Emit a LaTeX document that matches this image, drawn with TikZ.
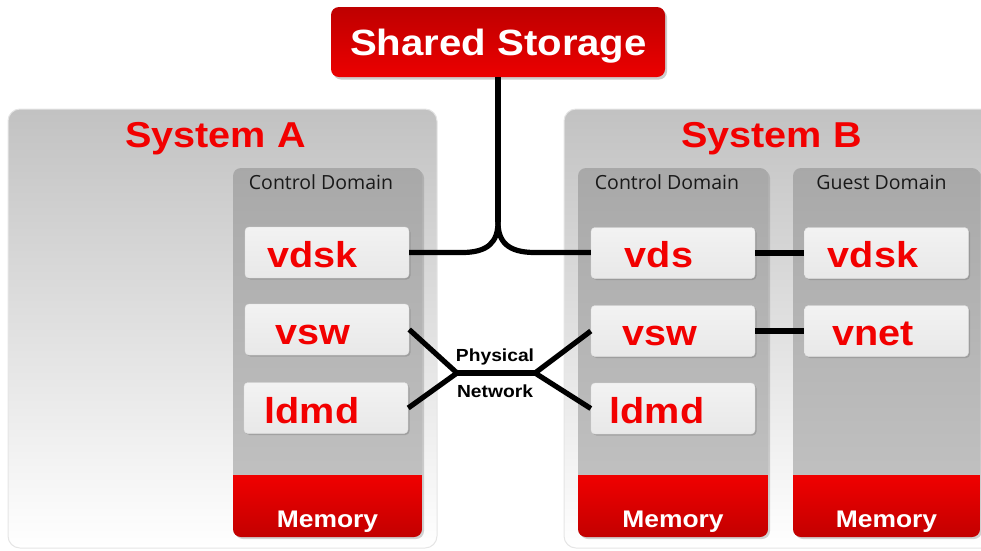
\documentclass[tikz,border=0pt]{standalone}
\usepackage{fontspec}
\setmainfont{Liberation Sans}
\newfontfamily\bfam[FakeStretch=1.1]{Liberation Sans}
\newfontfamily\cdfam{Open Sans}
\usetikzlibrary{shadows}
\definecolor{txtred}{HTML}{F20000}
\definecolor{ssTop}{HTML}{BE0000}
\definecolor{ssBot}{HTML}{EC0000}
\definecolor{memTop}{HTML}{F00000}
\definecolor{memBot}{HTML}{C20000}
\newcommand\DomainCol[2]{%
  \path[dom] (#1,168) rectangle (#2,537);
  \begin{scope}
    \clip[rounded corners=8pt] (#1,168) rectangle (#2,537);
    \path[top color=memTop, bottom color=memBot] (#1,475) rectangle (#2,538);
  \end{scope}}
\tikzset{
  conn/.style={line width=5.2pt, black},
  sys/.style={draw=black!10, line width=1pt, rounded corners=12pt, top color=black!24, bottom color=white},
  dom/.style={rounded corners=8pt, top color=black!34, bottom color=black!23,
    drop shadow={shadow xshift=2pt, shadow yshift=-2pt, opacity=0.35}},
  ibox/.style={rounded corners=4pt, top color=black!5, bottom color=black!9, draw=black!12,
    minimum width=164pt, minimum height=51pt, inner sep=0pt,
    drop shadow={shadow xshift=1.5pt, shadow yshift=-1.5pt, opacity=0.45}},
  ssbox/.style={rounded corners=8pt, top color=ssTop, bottom color=ssBot,
    minimum width=334pt, minimum height=70pt, inner sep=0pt,
    drop shadow={shadow xshift=2pt, shadow yshift=-2.5pt, opacity=0.4}},
  itext/.style={font=\bfam\bfseries\fontsize{36}{36}\selectfont, text=txtred, anchor=base, inner sep=0pt},
  ttext/.style={font=\bfam\bfseries\fontsize{36}{36}\selectfont, text=txtred, anchor=base, inner sep=0pt},
  sstext/.style={font=\bfam\bfseries\fontsize{36.5}{36.5}\selectfont, text=white, anchor=base, inner sep=0pt},
  memtext/.style={font=\bfam\bfseries\fontsize{24}{24}\selectfont, text=white, anchor=base, inner sep=0pt},
  cdtext/.style={font=\cdfam\fontsize{19.5}{19.5}\selectfont, text=black!90, anchor=base, inner sep=0pt},
  nettext/.style={font=\bfam\bfseries\fontsize{17.5}{17.5}\selectfont, text=black, anchor=base, inner sep=0pt},
}
\begin{document}
\begin{tikzpicture}[x=1pt,y=-1pt]
\useasboundingbox (0,0) rectangle (981,550);
% system panels
\path[sys] (8,109) rectangle (437,548);
\path[sys] (564,109) rectangle (1000,548);
\node[ttext] (sysA) at (215.5,147) {System A};
\node[ttext] (sysB) at (771.5,147) {System B};
% domain columns
\DomainCol{233}{422}
\DomainCol{578}{768}
\DomainCol{793}{980}
\node[cdtext] (cdA) at (321,189) {Control Domain};
\node[cdtext] (cdB) at (667,189.5) {Control Domain};
\node[cdtext] (gd) at (881.5,189) {Guest Domain};
\node[memtext] (memA) at (327.5,527) {Memory};
\node[memtext] (memB) at (673,527) {Memory};
\node[memtext] (memG) at (886.5,527) {Memory};
% shared storage
\node[ssbox] (ss) at (498,42) {};
\node[sstext] (sst) at (498.5,55) {Shared Storage};
% inner boxes
\node[ibox] (vdskA) at (327,252.5) {};
\node[ibox] (vswA) at (327,329.5) {};
\node[ibox] (ldmdA) at (326,408) {};
\node[ibox] (vds) at (673,253) {};
\node[ibox] (vswB) at (673,331) {};
\node[ibox] (ldmdB) at (673,408.5) {};
\node[ibox] (vdskG) at (886.5,253) {};
\node[ibox] (vnet) at (886.5,331) {};
\node[itext] (vdskAt) at (312.5,267.5) {vdsk};
\node[itext] (vswAt) at (313,344.5) {vsw};
\node[itext] (ldmdAt) at (312,423) {ldmd};
\node[itext] (vdst) at (659,267.5) {vds};
\node[itext] (vswBt) at (660,345.5) {vsw};
\node[itext] (ldmdBt) at (657,423.5) {ldmd};
\node[itext] (vdskGt) at (873,267.5) {vdsk};
\node[itext] (vnett) at (873,345.5) {vnet};
% storage connector
\coordinate (jTop) at (498,222);
\coordinate (jL) at (462,252.5);
\coordinate (jR) at (535,252.5);
\draw[conn] (ss.south) -- (jTop);
\draw[conn] (vdskA.east) -- (jL) .. controls (488,252.5) and (498,242) .. (jTop);
\draw[conn] (vds.west |- jR) -- (jR) .. controls (508,252.5) and (498,242) .. (jTop);
% physical network
\coordinate (pL) at (457,373);
\coordinate (pR) at (535,373);
\draw[conn] (vswA.east) -- (pL) -- (ldmdA.east);
\draw[conn] (pL) -- (pR);
\draw[conn] (vswB.west) -- (pR) -- (ldmdB.west);
\node[nettext] (phys) at (495,361) {Physical};
\node[nettext] (netw) at (495,397) {Network};
% guest links
\draw[conn] (vds.east) -- (vdskG.west);
\draw[conn] (vswB.east) -- (vnet.west);
\end{tikzpicture}
\end{document}
